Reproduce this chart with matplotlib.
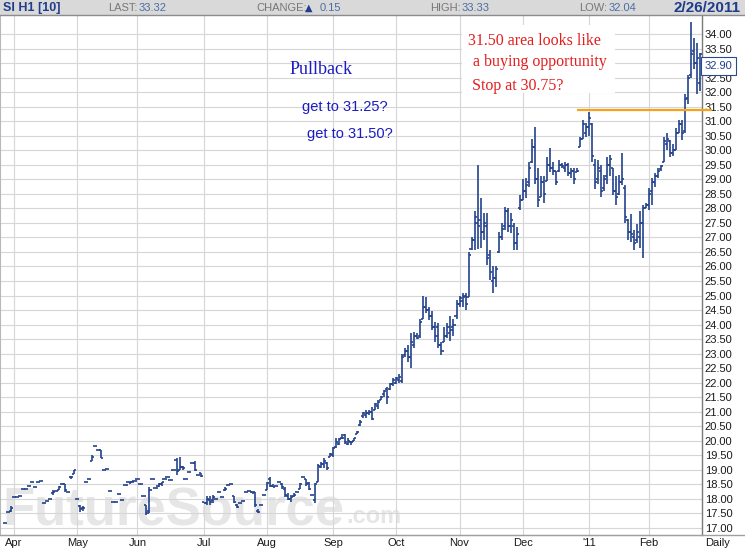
import matplotlib
matplotlib.use("Agg")
import matplotlib.pyplot as plt
from matplotlib.collections import LineCollection
from matplotlib.patches import Rectangle
from matplotlib.lines import Line2D
import matplotlib.transforms as mtransforms

plt.rcParams['font.family'] = ['Liberation Sans', 'DejaVu Sans']

# ---------------- data (daily OHLC, SI H1, Mar 29 2010 - Feb 25 2011) ----------------
opens = [
    17.17, 17.55, 17.6, 18.07, 18.07, 18.1, 18.34, 18.34, 18.45, 18.58,
    18.4, 18.6, 18.62, 17.85, 17.92, 18.0, 18.2, 18.28, 18.3, 18.5,
    18.5, 18.25, 18.75, 18.85, 18.0, 17.75, 17.7, 18.6, 18.7, 19.3,
    19.82, 19.7, 19.7, 19.0, 19.02, 18.27, 17.9, 17.88, 18.17, 17.98,
    18.47, 18.58, 18.55, 18.62, 18.68, 18.5, 18.1, 17.8, 17.6, 18.68,
    18.38, 18.45, 18.5, 18.7, 18.75, 18.65, 19.0, 19.35, 19.0, 19.1,
    18.7, 18.93, 19.25, 19.25, 18.82, 18.9, 17.9, 17.85, 17.95, 17.95,
    18.0, 18.24, 18.05, 18.3, 18.48, 18.5, 18.1, 17.8, 17.85, 17.93,
    18.25, 18.27, 18.25, 18.25, 17.6, 17.79, 18.13, 18.3, 18.7, 18.45,
    18.45, 18.58, 18.5, 18.35, 18.1, 18.0, 18.1, 18.25, 18.35, 18.76,
    18.7, 18.55, 18.13, 17.95, 18.6, 19.1, 19.2, 19.25, 19.45, 19.5,
    19.8, 19.9, 20.1, 20.2, 19.9, 19.95, 20.0, 20.25, 20.55, 20.85,
    20.9, 20.95, 21.0, 21.05, 21.2, 21.4, 21.6, 21.8, 21.8, 21.95,
    22.0, 22.1, 22.05, 22.95, 23.1, 22.9, 23.3, 23.6, 23.6, 24.2,
    24.6, 24.5, 24.3, 23.9, 23.9, 23.3, 23.4, 23.6, 23.7, 23.9,
    24.3, 24.7, 24.8, 25.0, 24.95, 26.6, 26.9, 27.5, 27.6, 27.2,
    27.4, 26.4, 25.5, 25.6, 26.5, 27.0, 27.4, 27.9, 27.4, 27.4,
    26.8, 28.0, 28.3, 28.6, 28.9, 29.6, 30.1, 29.0, 28.4, 28.9,
    28.95, 29.5, 29.4, 29.3, 29.3, 29.5, 29.4, 29.5, 29.2, 29.3,
    29.25, 30.1, 30.4, 30.6, 30.8, 30.9, 29.5, 29.0, 29.3, 28.7,
    29.1, 29.5, 29.4, 28.6, 28.5, 28.9, 28.7, 27.6, 27.2, 27.0,
    26.9, 27.0, 27.5, 28.0, 28.1, 28.6, 28.9, 29.1, 29.35, 29.6,
    30.2, 30.3, 29.9, 30.0, 30.6, 30.9, 30.65, 31.8, 32.6, 33.4,
    33.0, 32.3,
]
highs = [
    17.17, 17.55, 17.75, 18.07, 18.07, 18.1, 18.34, 18.34, 18.45, 18.58,
    18.4, 18.6, 18.62, 17.85, 17.92, 18.0, 18.3, 18.28, 18.45, 18.5,
    18.5, 18.25, 18.8, 19.0, 18.0, 17.8, 17.75, 18.6, 18.7, 19.5,
    19.82, 19.7, 19.7, 19.0, 19.02, 18.27, 17.9, 17.88, 18.17, 17.98,
    18.47, 18.58, 18.62, 18.62, 18.68, 18.5, 18.1, 17.8, 18.4, 18.68,
    18.38, 18.55, 18.6, 18.7, 18.75, 18.65, 19.0, 19.4, 19.45, 19.15,
    18.7, 18.93, 19.25, 19.3, 18.82, 18.9, 17.9, 18.1, 18.1, 18.13,
    18.0, 18.24, 18.05, 18.4, 18.48, 18.5, 18.1, 17.82, 17.85, 17.93,
    18.25, 18.27, 18.27, 18.25, 17.65, 17.79, 18.13, 18.6, 18.75, 18.5,
    18.45, 18.58, 18.55, 18.4, 18.2, 18.15, 18.2, 18.25, 18.55, 18.76,
    18.7, 18.6, 18.13, 18.55, 19.2, 19.27, 19.4, 19.27, 19.58, 19.8,
    20.1, 20.1, 20.25, 20.25, 20.1, 20.0, 20.1, 20.35, 20.7, 21.0,
    21.05, 21.05, 21.15, 21.3, 21.4, 21.55, 21.75, 21.85, 22.0, 22.15,
    22.2, 22.3, 23.0, 23.2, 23.3, 23.7, 23.75, 23.7, 24.2, 25.0,
    24.95, 24.6, 24.45, 24.1, 24.05, 23.4, 23.9, 24.05, 24.3, 24.2,
    24.85, 25.0, 25.1, 25.1, 26.5, 27.0, 27.9, 29.5, 28.35, 27.85,
    27.85, 26.55, 26.0, 26.0, 27.2, 27.5, 28.05, 28.0, 27.85, 27.5,
    27.35, 28.45, 29.0, 29.05, 29.6, 30.4, 30.8, 29.4, 29.1, 29.1,
    29.75, 30.07, 29.6, 29.3, 29.65, 29.55, 29.6, 29.55, 29.4, 29.4,
    29.4, 30.45, 31.05, 30.95, 31.3, 30.95, 29.7, 29.65, 29.5, 29.15,
    29.75, 29.85, 29.4, 29.1, 29.15, 29.9, 28.8, 27.65, 27.8, 27.25,
    27.45, 27.9, 28.1, 28.2, 28.7, 29.05, 29.2, 29.4, 29.5, 30.45,
    30.6, 30.35, 30.2, 30.75, 31.05, 31.05, 31.95, 32.6, 34.4, 33.85,
    33.7, 33.33,
]
lows = [
    17.17, 17.55, 17.55, 18.07, 18.07, 18.1, 18.34, 18.34, 18.45, 18.58,
    18.4, 18.6, 18.62, 17.85, 17.92, 18.0, 18.15, 18.28, 18.3, 18.5,
    18.25, 18.25, 18.7, 18.85, 18.0, 17.55, 17.6, 18.6, 18.7, 19.3,
    19.82, 19.7, 19.4, 19.0, 19.02, 18.27, 17.9, 17.88, 18.17, 17.98,
    18.47, 18.58, 18.55, 18.62, 18.68, 18.5, 18.1, 17.45, 17.5, 18.68,
    18.38, 18.4, 18.45, 18.7, 18.75, 18.65, 19.0, 18.83, 19.0, 19.0,
    18.7, 18.93, 19.25, 18.95, 18.82, 18.75, 17.85, 17.8, 17.8, 17.85,
    18.0, 18.24, 18.05, 18.28, 18.48, 18.5, 17.85, 17.7, 17.85, 17.93,
    18.25, 18.27, 18.2, 17.72, 17.5, 17.79, 18.13, 18.3, 18.4, 18.4,
    18.45, 18.58, 18.35, 18.05, 17.95, 17.9, 18.05, 18.25, 18.35, 18.76,
    18.45, 18.3, 18.13, 17.86, 18.6, 19.06, 19.06, 19.0, 19.45, 19.45,
    19.75, 19.85, 20.05, 19.9, 19.85, 19.85, 20.0, 20.25, 20.5, 20.8,
    20.8, 20.9, 20.7, 21.05, 21.1, 21.4, 21.5, 21.25, 21.75, 21.9,
    21.95, 22.0, 22.0, 22.9, 22.7, 22.5, 23.2, 23.5, 23.55, 24.2,
    24.4, 24.15, 23.8, 23.4, 23.2, 22.95, 23.4, 23.55, 23.45, 23.6,
    24.2, 24.6, 24.6, 24.5, 24.95, 26.55, 26.55, 26.6, 26.65, 26.9,
    26.05, 25.55, 25.1, 25.3, 26.45, 26.9, 27.25, 27.2, 27.15, 26.55,
    26.55, 27.95, 28.3, 28.35, 28.75, 29.55, 28.85, 28.05, 28.4, 28.2,
    28.95, 29.25, 29.15, 28.8, 29.25, 29.4, 29.25, 29.1, 29.05, 28.85,
    29.25, 30.1, 30.4, 30.45, 30.5, 29.6, 28.65, 28.85, 28.4, 28.6,
    28.85, 29.1, 28.45, 28.1, 28.45, 28.8, 27.5, 26.9, 26.85, 26.55,
    26.8, 26.65, 26.3, 28.0, 27.95, 28.1, 28.75, 29.05, 29.3, 29.6,
    30.0, 29.75, 29.8, 30.0, 30.6, 30.35, 30.6, 31.6, 32.5, 32.8,
    31.95, 32.04,
]
closes = [
    17.17, 17.55, 17.7, 18.07, 18.07, 18.1, 18.34, 18.34, 18.45, 18.58,
    18.4, 18.6, 18.62, 17.85, 17.92, 18.0, 18.25, 18.28, 18.4, 18.5,
    18.3, 18.25, 18.75, 19.0, 18.0, 17.65, 17.7, 18.6, 18.7, 19.45,
    19.82, 19.7, 19.4, 19.0, 19.02, 18.27, 17.9, 17.88, 18.17, 17.98,
    18.47, 18.58, 18.6, 18.62, 18.68, 18.5, 18.1, 17.5, 18.3, 18.68,
    18.38, 18.5, 18.6, 18.7, 18.75, 18.65, 19.0, 18.95, 19.1, 19.05,
    18.7, 18.93, 19.25, 19.0, 18.82, 18.8, 17.85, 18.0, 17.9, 18.05,
    18.0, 18.24, 18.05, 18.35, 18.48, 18.5, 17.9, 17.72, 17.85, 17.93,
    18.25, 18.27, 18.22, 17.8, 17.55, 17.79, 18.13, 18.55, 18.45, 18.42,
    18.45, 18.58, 18.4, 18.15, 18.0, 18.05, 18.15, 18.25, 18.5, 18.76,
    18.5, 18.35, 18.13, 18.5, 19.15, 19.2, 19.3, 19.05, 19.55, 19.75,
    19.95, 20.05, 20.1, 19.95, 20.0, 19.95, 20.1, 20.3, 20.65, 20.95,
    20.95, 21.0, 20.75, 21.25, 21.35, 21.5, 21.7, 21.5, 21.95, 22.1,
    22.15, 22.2, 22.9, 23.1, 22.9, 23.4, 23.6, 23.55, 24.1, 24.6,
    24.5, 24.3, 23.9, 23.6, 23.3, 23.1, 23.6, 23.9, 23.8, 24.0,
    24.7, 24.9, 24.95, 24.7, 26.4, 26.9, 27.7, 27.4, 27.2, 27.5,
    26.3, 25.8, 25.6, 25.9, 27.0, 27.3, 27.9, 27.4, 27.6, 26.8,
    27.1, 28.3, 28.6, 28.8, 29.4, 30.1, 29.0, 28.3, 28.9, 28.5,
    29.5, 29.4, 29.3, 28.9, 29.5, 29.45, 29.5, 29.2, 29.3, 29.0,
    29.3, 30.4, 30.9, 30.8, 31.1, 29.8, 28.9, 29.4, 28.6, 29.0,
    29.5, 29.7, 28.6, 28.4, 28.9, 29.0, 27.7, 27.2, 27.1, 26.8,
    27.2, 27.5, 28.0, 28.1, 28.5, 28.9, 29.1, 29.3, 29.45, 30.3,
    30.4, 29.9, 30.0, 30.6, 30.9, 30.6, 31.75, 32.5, 33.3, 33.0,
    33.17, 33.32,
]

month_labels = ["Apr", "May", "Jun", "Jul", "Aug", "Sep", "Oct", "Nov", "Dec", "'11", "Feb"]
month_start_idx = [3, 24, 44, 66, 87, 109, 130, 151, 172, 194, 214]
price_ticks = [17.0 + 0.5 * k for k in range(35)]

support_level = 31.38
support_from_idx = 190
support_to_idx = 235
marker_price = 32.90

header_items = [("LAST:", "33.32"), ("CHANGE:", "0.15"), ("HIGH:", "33.33"), ("LOW:", "32.04")]
symbol_text = "SI H1 [10]"
date_text = "2/26/2011"

# ---------------- figure ----------------
W, H = 745, 550
fig = plt.figure(figsize=(W / 100, H / 100), dpi=100)
fig.patch.set_facecolor("white")


def fx(px):
    return px / W


def fy(py):
    return 1 - py / H


ax = fig.add_axes([0, 15 / H, 702 / W, 520 / H])
ax.set_facecolor("white")
ax.set_xlim(-1.66, 231.56)
ax.set_ylim(16.759, 34.653)

ax.set_axisbelow(True)
ax.set_yticks(price_ticks)
# the label hidden behind the current-price box is left blank
ax.set_yticklabels(["" if abs(p - marker_price) < 0.2 else f"{p:.2f}" for p in price_ticks])
ax.yaxis.tick_right()
ax.set_xticks(month_start_idx)
ax.set_xticklabels(month_labels)
ax.grid(True, color="#d6d6d6", linewidth=0.8)
ax.tick_params(axis="y", length=0, pad=2, labelsize=8, labelcolor="#1a1a1a")
ax.tick_params(axis="x", length=0, pad=2.5, labelsize=8, labelcolor="#1a1a1a")

ax.spines["top"].set_visible(False)
ax.spines["right"].set_color("#7a7a7a")
ax.spines["right"].set_linewidth(1.0)
ax.spines["bottom"].set_color("#a0a0a0")
ax.spines["left"].set_color("#b8b8b8")

# bottom axis line continuing under the price scale
fig.add_artist(Line2D([0, 1], [15 / H, 15 / H], transform=fig.transFigure,
                      color="#a0a0a0", lw=1.0))

# watermark
ax.text(fx(2), fy(525), "FutureSource", transform=fig.transFigure, fontsize=38,
        fontweight="bold", color="#e6e6e6", ha="left", va="baseline", zorder=0.3,
        family="Liberation Sans")
ax.text(fx(346), fy(523), ".com", transform=fig.transFigure, fontsize=17,
        fontweight="bold", color="#e6e6e6", ha="left", va="baseline", zorder=0.3,
        family="Liberation Sans")

# OHLC bars
tick = 0.7
segs = []
for i, (o, h, l, c) in enumerate(zip(opens, highs, lows, closes)):
    segs.append([(i, l), (i, h)])
    segs.append([(i - tick, o), (i, o)])
    segs.append([(i, c), (i + tick, c)])
bars = LineCollection(segs, colors="#24428c", linewidths=1.2, zorder=3, capstyle="butt")
ax.add_collection(bars)

# support line
ax.plot([support_from_idx, support_to_idx], [support_level, support_level],
        color="#f7a21b", lw=1.6, clip_on=False, zorder=4, solid_capstyle="butt")

# price marker box
trans = mtransforms.blended_transform_factory(ax.transAxes, ax.transData)
ax.text(1.004, marker_price, f"{marker_price:.2f}", transform=trans, ha="left", va="center",
        fontsize=8, color="#1f3f8f", clip_on=False, zorder=5,
        bbox=dict(boxstyle="square,pad=0.35", fc="white", ec="#2a4a8a", lw=0.8))

# annotation white box + texts
ax.add_patch(Rectangle((fx(462), fy(93)), (615 - 462) / W, (93 - 25) / H,
                       transform=fig.transFigure, fc="white", ec="none", zorder=2))
blue = "#1c1cc4"
red = "#e41e1e"
fig.text(fx(290), fy(70), "Pullback", color=blue, family="Liberation Serif", fontsize=13,
         ha="left", va="center")
fig.text(fx(302), fy(107), "get to 31.25?", color=blue, family="Liberation Sans", fontsize=10.5,
         ha="left", va="center")
fig.text(fx(307), fy(134), "get to 31.50?", color=blue, family="Liberation Sans", fontsize=10.5,
         ha="left", va="center")
fig.text(fx(468), fy(41), "31.50 area looks like", color=red, family="Liberation Serif",
         fontsize=11.5, ha="left", va="center")
fig.text(fx(473), fy(62), "a buying opportunity", color=red, family="Liberation Serif",
         fontsize=11.5, ha="left", va="center")
fig.text(fx(472), fy(86), "Stop at 30.75?", color=red, family="Liberation Serif",
         fontsize=11.5, ha="left", va="center")

# "Daily" label
fig.text(fx(718), fy(543), "Daily", fontsize=8, color="#1a1a1a", ha="center", va="center")

# header bar
fig.add_artist(Rectangle((0, fy(15)), 1, 15 / H, transform=fig.transFigure,
                         fc="#d9d9d9", ec="none"))
fig.add_artist(Line2D([0, 1], [fy(15), fy(15)], transform=fig.transFigure,
                      color="#8c8c8c", lw=1.0))
hdr_blue = "#1f3d8c"
val_blue = "#4a6da5"
hy = fy(8)
fig.text(fx(3), hy, symbol_text, fontsize=9, fontweight="bold", color=hdr_blue,
         ha="left", va="center")
label_x = [108, 256, 430, 579]
value_x = [139, 320, 462, 609]
for (lab, val), lx, vx in zip(header_items, label_x, value_x):
    fig.text(fx(lx), hy, lab, fontsize=8, color="#777777", ha="left", va="center")
    fig.text(fx(vx), hy, val, fontsize=8, color=val_blue, ha="left", va="center")
fig.text(fx(305), hy, "\u25b2", fontsize=7, color=hdr_blue, ha="left", va="center",
         family=["DejaVu Sans"])
fig.text(fx(741), hy, date_text, fontsize=11, fontweight="bold", color=hdr_blue,
         ha="right", va="center")

fig.savefig("out.png", dpi=100)
